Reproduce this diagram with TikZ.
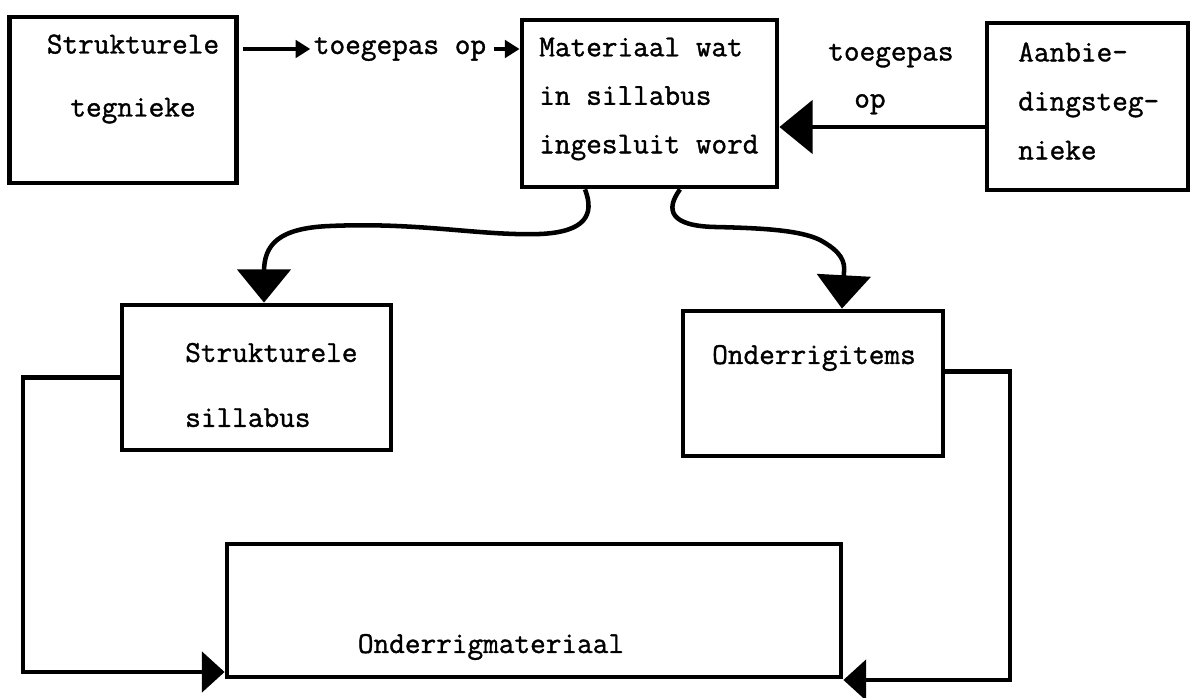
\documentclass[tikz,border=0pt]{standalone}
\usepackage{fontspec}
\newfontfamily\tikmasjien{Latin Modern Mono}[FakeBold=1.2]
\usetikzlibrary{arrows.meta,calc}

\tikzset{every picture/.style={line width=3.4pt}}
\tikzset{
  blok/.style={draw, line width=3.6pt, inner sep=0pt},
  teks/.style={font=\fontsize{22.8}{#1}\selectfont\tikmasjien, inner sep=0pt},
  teks/.default=36.4,
  kleinpyl/.style={-{Triangle[length=11pt,width=13pt]}},
  grootpyl/.style={-{Triangle[length=25pt,width=40pt]}},
  onderpyl/.style={-{Triangle[length=17pt,width=30pt]}},
}

\begin{document}
\begin{tikzpicture}[x=0.75pt,y=0.75pt,yscale=-1,xscale=1]
\useasboundingbox (0,0) rectangle (1190,698);

%Shape: Rectangle [Strukturele tegnieke]
\node [blok, minimum width=170pt, minimum height=124.5pt] (A) at (123,100) {} ;
\node [teks=47.25, align=center] (Atxt) at (133,79) {Strukturele\\tegnieke} ;
%Shape: Rectangle [Materiaal]
\node [blok, minimum width=191.25pt, minimum height=125.25pt] (B) at (649.5,103.5) {} ;
\node [teks, align=left, anchor=west] (Btxt) at (537,99) {Materiaal wat\\in sillabus\\ingesluit word} ;
%Shape: Rectangle [Aanbiedingstegnieke]
\node [blok, minimum width=150.75pt, minimum height=125.25pt] (C) at (1087.5,106.5) {} ;
\node [teks=36.75, align=left, anchor=west] (Ctxt) at (1016,101) {Aanbie-\\dingsteg-\\nieke} ;
%Shape: Rectangle [Strukturele sillabus]
\node [blok, minimum width=201.75pt, minimum height=108.75pt] (SS) at (256.5,377.5) {} ;
\node [teks=48.75, align=left, anchor=west] (SStxt) at (183,385) {Strukturele\\sillabus} ;
%Shape: Rectangle [Onderrigitems]
\node [blok, minimum width=195pt, minimum height=108.75pt] (OI) at (813,383.5) {} ;
\node [teks] (OItxt) at (814,358) {Onderrigitems} ;
%Shape: Rectangle [Onderrigmateriaal]
\node [blok, minimum width=460.5pt, minimum height=99.75pt] (OM) at (534,610.5) {} ;
\node [teks] (OMtxt) at (491,647) {Onderrigmateriaal} ;

%Straight Lines [A -> B]
\node [teks] (lblAB) at (400,49) {toegepas op} ;
\draw [kleinpyl, shorten <=3pt, shorten >=1pt] (A.east |- lblAB.west) -- (lblAB.west) ;
\draw [kleinpyl, shorten <=4pt] (lblAB.east) -- (B.west |- lblAB.east) ;

%Straight Lines [C -> B]
\coordinate (pCB) at (0,127) ;
\node [teks=35.25, align=left, anchor=west] (lblCB) at (826,79) {toegepas\\\hspace*{19.5pt}op} ;
\draw [grootpyl] (C.west |- pCB) -- (B.east |- pCB) ;

%Curve Lines [B -> SS]
\draw [grootpyl] ($(B.south)+(-64.5,0)$) .. controls (595,215) and (585,232) .. (540,234) .. controls (480,236) and (420,222) .. (330,226) .. controls (278,228) and (264,245) .. (264,272) -- ($(SS.north)+(7.5,0)$) ;
%Curve Lines [B -> OI]
\draw [grootpyl] ($(B.south)+(30.5,0)$) .. controls (665,210) and (670,226) .. (715,227) .. controls (760,228) and (800,230) .. (820,240) .. controls (842,252) and (845,262) .. (844,272) -- ($(OI.north)+(29,0)$) ;

%Straight Lines [SS -> OM]
\coordinate (lhoek) at (23,672) ;
\draw [onderpyl] (SS.west) -| (lhoek) -- (OM.west |- lhoek) ;
%Straight Lines [OI -> OM]
\coordinate (rhoek) at (1010,680) ;
\draw [onderpyl] ($(OI.east)+(0,-12)$) -| (rhoek) -- (OM.east |- rhoek) ;
\end{tikzpicture}
\end{document}
